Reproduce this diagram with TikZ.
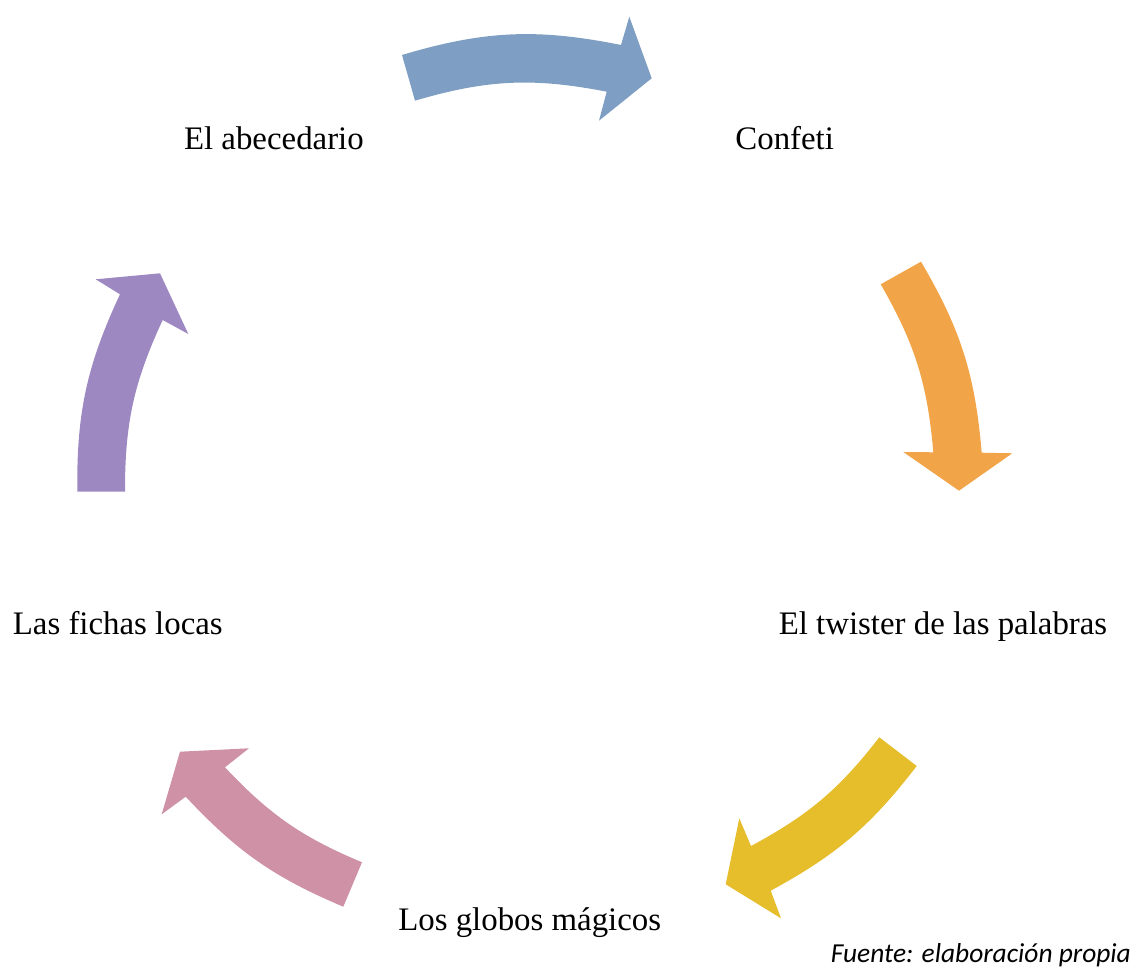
\documentclass[tikz,border=0pt]{standalone}
\usepackage{fontspec}
\setmainfont{Liberation Serif}
\newfontfamily\srcfont{Carlito}
\definecolor{cblue}{HTML}{7F9EC3}
\definecolor{corange}{HTML}{F2A548}
\definecolor{cyellow}{HTML}{E6BD2B}
\definecolor{cpink}{HTML}{CF91A6}
\definecolor{cpurple}{HTML}{9D88C2}
\tikzset{
  lbl/.style={anchor=base, inner sep=0pt, outer sep=0pt, font=\fontsize{18.7}{22}\selectfont},
  src/.style={anchor=base, inner sep=0pt, outer sep=0pt, font=\srcfont\itshape\fontsize{15.6}{18}\selectfont}
}
\begin{document}
\begin{tikzpicture}[x=0.02cm, y=0.02cm]
\useasboundingbox (0,0) rectangle (1137,971);

% labels
\node[lbl] (abc) at (273.9,821.7) {El abecedario};
\node[lbl] (conf) at (784.7,821.7) {Confeti};
\node[lbl] (twis) at (943,336.7) {El twister de las palabras};
\node[lbl] (glob) at (529.7,40) {Los globos mágicos};
\node[lbl] (fich) at (117.8,336.7) {Las fichas locas};
\node[src] (fuente) at (980.9,8.7) {Fuente: elaboración propia};

% arrows
\fill[cblue] (402,916) to[bend left=14] (621,926) -- (629.3,954.3) -- (651.7,892.7)
  -- (599,850.3) -- (606.7,879.3) to[bend right=13.7] (415,870.3) -- cycle;
\fill[corange] (921,709.3) to[bend left=12.8] (981.7,518.3) -- (1012.3,517.7) -- (959,480.3)
  -- (903.3,519) -- (933.3,518.7) to[bend right=12.5] (880.7,686.7) -- cycle;
\fill[cyellow] (916.7,205) to[bend left=12] (770.7,80.3) -- (781,52.7) -- (725.7,86.7)
  -- (739.3,152.7) -- (751,125) to[bend right=12] (879.3,233.7) -- cycle;
\fill[cpink] (343.3,64.3) to[bend left=12] (185.7,174.3) -- (161.7,156.7) -- (180,219.3)
  -- (249,222.7) -- (225,203.7) to[bend right=12] (362,108.7) -- cycle;
\fill[cpurple] (77.3,479.3) to[bend left=12.8] (120,676.7) -- (95.7,691.7) -- (160,697.7)
  -- (188.3,637) -- (162.7,651) to[bend right=12.5] (125,479.3) -- cycle;
\end{tikzpicture}
\end{document}
